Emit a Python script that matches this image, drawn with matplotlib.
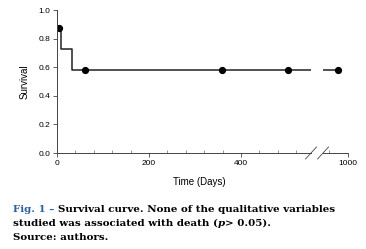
import matplotlib
matplotlib.use("Agg")
import matplotlib.pyplot as plt
from matplotlib.ticker import MultipleLocator, FixedLocator

# Kaplan-Meier estimate (n = 8)
step_days = [0, 1, 9, 32, 978]
step_surv = [1.0, 0.875, 0.729, 0.583, 0.583]
censor_days = [4, 61, 358, 503, 978]
censor_surv = [0.875, 0.583, 0.583, 0.583, 0.583]

y_ticks = [0.0, 0.2, 0.4, 0.6, 0.8, 1.0]
left_ticks = [0, 200, 400]
right_ticks = [1000]

plt.rcParams['font.family'] = ['Liberation Sans', 'DejaVu Sans']
line_col = '#222222'

W, H = 366, 249
fig = plt.figure(figsize=(W / 100, H / 100), dpi=100)

# broken x axis: two panels, 0-552 and 946-1000 days
ax1 = fig.add_axes([57 / W, 1 - 153 / H, (311 - 57) / W, 143 / H])
ax2 = fig.add_axes([323 / W, 1 - 153 / H, (348 - 323) / W, 143 / H], sharey=ax1)
ax1.set_xlim(0, 552)
ax2.set_xlim(946, 1000)
ax1.set_ylim(0, 1.0)

for ax in (ax1, ax2):
    ax.plot(step_days, step_surv, drawstyle='steps-post', color=line_col, lw=1.1, clip_on=True)
    ax.plot(censor_days, censor_surv, 'o', color='black', ms=4.2, clip_on=True)
    ax.spines['top'].set_visible(False)
    ax.spines['right'].set_visible(False)
    ax.spines['bottom'].set_color('#444444')
    ax.spines['bottom'].set_linewidth(0.7)
    ax.xaxis.set_minor_locator(MultipleLocator(40))
    ax.tick_params(axis='x', which='major', direction='out', length=3, width=0.6,
                   labelsize=6, pad=2, color='#444444')
    ax.tick_params(axis='x', which='minor', direction='in', length=2, width=0.5,
                   color='#666666')

ax1.xaxis.set_major_locator(FixedLocator(left_ticks))
ax2.xaxis.set_major_locator(FixedLocator(right_ticks))
ax1.set_yticks(y_ticks)
ax1.set_yticklabels([f'{v:.1f}' for v in y_ticks])
ax1.spines['left'].set_color('#444444')
ax1.spines['left'].set_linewidth(0.7)
ax1.tick_params(axis='y', direction='out', length=3, width=0.6, labelsize=6, pad=2,
                color='#444444')
ax2.spines['left'].set_visible(False)
ax2.tick_params(axis='y', left=False, labelleft=False)

# break marks
kw = dict(color='#444444', lw=0.6, clip_on=False)
ax1.plot([1 - 5.5 / 254, 1 + 5.5 / 254], [-6 / 143, 6 / 143], transform=ax1.transAxes, **kw)
ax2.plot([-5.5 / 25, 5.5 / 25], [-6 / 143, 6 / 143], transform=ax2.transAxes, **kw)

ax1.set_ylabel('Survival', fontsize=7, labelpad=6)
fig.text(199 / W, 1 - 182 / H, 'Time (Days)', fontsize=7, ha='center', va='center')

# caption, pieces placed one after another on the same baseline
cap = dict(family='DejaVu Serif', weight='bold', fontsize=7.35, va='baseline', ha='left')
renderer = fig.canvas.get_renderer()


def caption_line(pieces, y_px, x_px=13):
    x = x_px
    for txt, extra in pieces:
        t = fig.text(x / W, 1 - y_px / H, txt, **cap, **extra)
        x += t.get_window_extent(renderer).width


caption_line([('Fig. 1 \u2013 ', dict(color='#2c5f9e')),
              ('Survival curve. None of the qualitative variables', {})], 212)
caption_line([('studied was associated with death (', {}),
              ('p', dict(style='italic')),
              ('> 0.05).', {})], 226)
caption_line([('Source: authors.', {})], 240)

fig.savefig('out.png', dpi=100)
